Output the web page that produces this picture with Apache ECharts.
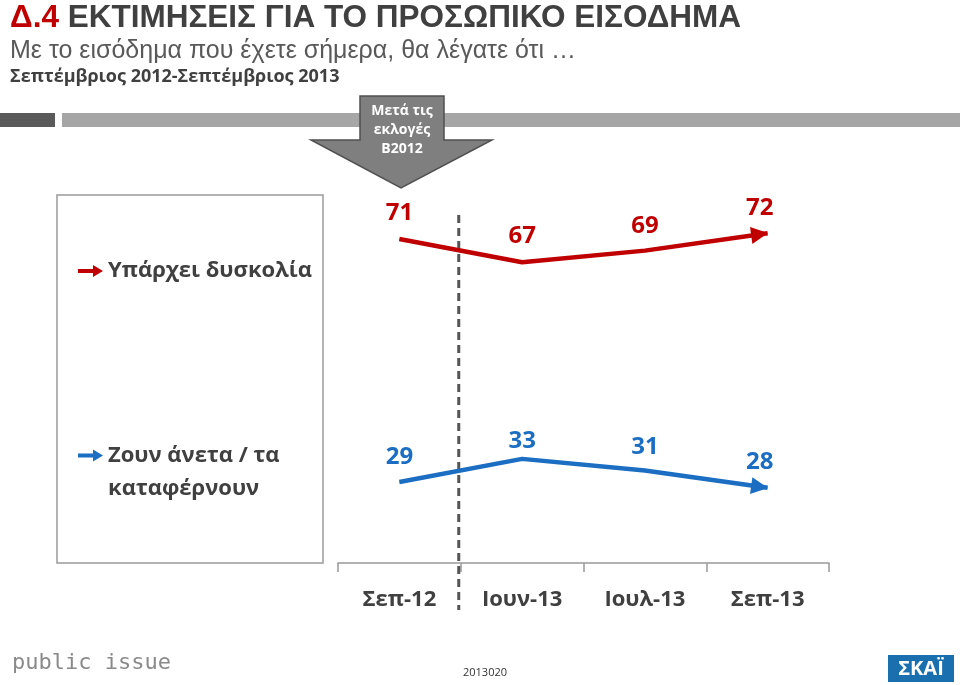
<!DOCTYPE html>
<html><head><meta charset="utf-8">
<script src="https://cdn.jsdelivr.net/npm/echarts@6/dist/echarts.min.js"></script>
<style>html,body{margin:0;padding:0;background:#fff}#c{width:960px;height:685px}</style>
</head><body><div id="c"></div>
<script>
// ---- data ----
const categories = ['Σεπ-12', 'Ιουν-13', 'Ιουλ-13', 'Σεπ-13'];
const seriesNames = ['Υπάρχει δυσκολία', 'Ζουν άνετα / τα καταφέρνουν'];
const difficulty = [71, 67, 69, 72];
const comfortable = [29, 33, 31, 28];
const titleMain = 'ΕΚΤΙΜΗΣΕΙΣ ΓΙΑ ΤΟ ΠΡΟΣΩΠΙΚΟ ΕΙΣΟΔΗΜΑ';
const titleTag = 'Δ.4';
const subtitle = 'Με το εισόδημα που έχετε σήμερα, θα λέγατε ότι …';
const period = 'Σεπτέμβριος 2012-Σεπτέμβριος 2013';
const calloutText = 'Μετά τις\nεκλογές\nΒ2012';
const footerCode = '2013020';

const RED = '#C00000', BLUE = '#1B6EC2', GREY = '#404040';
const FONT = '"Open Sans", "Noto Sans", sans-serif';
const NARROW = '"Liberation Sans Narrow", "Liberation Sans", sans-serif';
const arrowIcon = 'path://M0,4 L15,4 L15,0 L25,6 L15,12 L15,8 L0,8 Z';

const chart = echarts.init(document.getElementById('c'), null, {renderer: 'canvas'});

function lineSeries(name, data, color, rot, offset, labelShift) {
  const last = data.length - 1;
  return {
    name: name, type: 'line', data: data,
    symbol: 'triangle',
    symbolSize: (v, p) => p.dataIndex === last ? [17, 17] : 1,
    symbolRotate: (v, p) => p.dataIndex === last ? rot : 0,
    symbolOffset: (v, p) => p.dataIndex === last ? offset : [0, 0],
    showSymbol: true,
    lineStyle: {color: color, width: 4.5},
    itemStyle: {color: color, borderWidth: 0},
    label: {show: true, position: 'top', distance: 12, color: color,
      fontFamily: FONT, fontWeight: 'bold', fontSize: 24},
    labelLayout: p => ({dy: labelShift[p.dataIndex] || 0}),
    emphasis: {disabled: true},
    z: 3
  };
}

const option = {
  animation: false,
  backgroundColor: '#fff',
  grid: {left: 338, right: 131, top: 187, bottom: 122},
  xAxis: {
    type: 'category', data: categories, boundaryGap: true,
    axisLine: {lineStyle: {color: '#999', width: 1.5}},
    axisTick: {show: true, length: 9, lineStyle: {color: '#999', width: 1.5}},
    axisLabel: {margin: 26, color: GREY, fontFamily: FONT, fontWeight: 'bold', fontSize: 22}
  },
  yAxis: {type: 'value', min: 15, max: 80, show: false, splitLine: {show: false}},
  legend: [
    {
      data: [seriesNames[0]], left: 78, top: 260, icon: arrowIcon,
      itemWidth: 25, itemHeight: 12, selectedMode: false, padding: 0,
      itemStyle: {borderWidth: 0},
      textStyle: {color: GREY, fontFamily: FONT, fontWeight: 'bold', fontSize: 22}
    },
    {
      data: [seriesNames[1]], left: 78, top: 406, icon: arrowIcon,
      itemWidth: 25, itemHeight: 12, selectedMode: false, padding: 0,
      itemStyle: {borderWidth: 0},
      formatter: n => ' \n' + n.replace(' / τα ', ' / τα\n'),
      textStyle: {color: GREY, fontFamily: FONT, fontWeight: 'bold', fontSize: 22,
        lineHeight: 33}
    }
  ],
  series: [
    lineSeries(seriesNames[0], difficulty, RED, -82, [-8, 1], [-1, -2, 0, 7]),
    lineSeries(seriesNames[1], comfortable, BLUE, -98, [-8, -1], [0, 7, 1, 9])
  ]
};
chart.setOption(option);

// divider between first and second category, located through the axis scale
const x0 = chart.convertToPixel({xAxisIndex: 0}, categories[0]);
const x1 = chart.convertToPixel({xAxisIndex: 0}, categories[1]);
const xDiv = (x0 + x1) / 2 - 2;

chart.setOption({
  graphic: [
    // title block
    {type: 'text', left: 10, top: 2, style: {
      text: '{a|' + titleTag + '}{b| ' + titleMain + '}',
      rich: {
        a: {fill: RED, fontFamily: NARROW, fontWeight: 'bold', fontSize: 31.5},
        b: {fill: GREY, fontFamily: NARROW, fontWeight: 'bold', fontSize: 31.5}
      }}},
    {type: 'text', left: 10, top: 39, style: {text: subtitle, fill: '#595959',
      fontFamily: NARROW, fontSize: 25}},
    {type: 'text', left: 10, top: 68, style: {text: period, fill: GREY,
      fontFamily: FONT, fontWeight: 'bold', fontSize: 18}},
    // header bars
    {type: 'rect', shape: {x: 0, y: 113, width: 55, height: 14}, style: {fill: '#5a5a5a'}},
    {type: 'rect', shape: {x: 62, y: 113, width: 898, height: 14}, style: {fill: '#a6a6a6'}},
    // callout arrow
    {type: 'polygon', shape: {points: [[360, 96], [444, 96], [444, 140], [492, 140], [401, 188], [311, 140], [360, 140]]},
      style: {fill: '#7f7f7f', stroke: '#505050', lineWidth: 1.5}, z: 5},
    {type: 'text', x: 402, y: 102, z: 6, style: {text: calloutText, fill: '#fff',
      fontFamily: FONT, fontWeight: 'bold', fontSize: 14, lineHeight: 19, align: 'center'}},
    // legend box
    {type: 'rect', shape: {x: 57, y: 195, width: 266, height: 368},
      style: {fill: 'none', stroke: '#9a9a9a', lineWidth: 1.5}, z: 0},
    // divider
    {type: 'line', shape: {x1: xDiv, y1: 215, x2: xDiv, y2: 610},
      style: {stroke: '#555', lineWidth: 3, lineDash: [8, 5]}, z: 2},
    // footer
    {type: 'text', left: 12, top: 652, style: {text: 'public issue', fill: '#8a8a8a',
      fontFamily: '"DejaVu Sans Mono", monospace', fontSize: 22}},
    {type: 'text', x: 485, y: 673, style: {text: footerCode, fill: '#333',
      fontFamily: FONT, fontSize: 11, align: 'center', verticalAlign: 'middle'}},
    {type: 'rect', shape: {x: 888, y: 655, width: 66, height: 27}, style: {fill: '#1a6fae'}},
    {type: 'text', x: 921, y: 669, style: {text: 'ΣΚΑΪ', fill: '#fff',
      fontFamily: FONT, fontWeight: 'bold', fontSize: 20, align: 'center', verticalAlign: 'middle'}}
  ]
});
</script></body></html>
